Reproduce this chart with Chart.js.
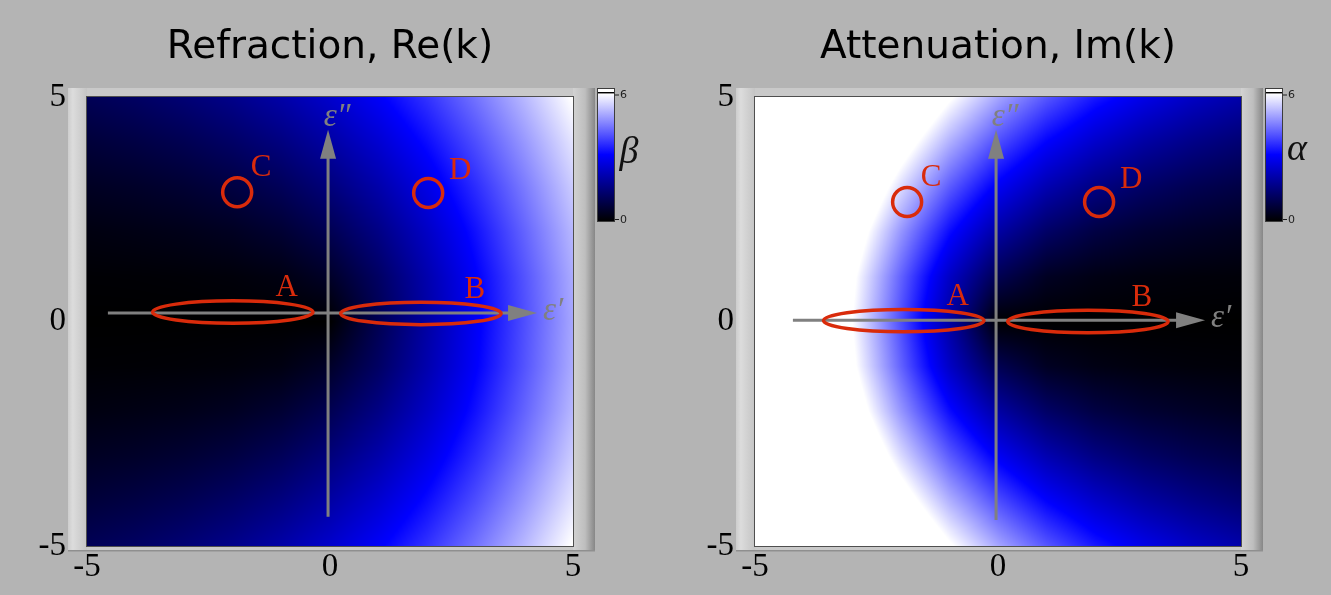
<!DOCTYPE html>
<html>
<head>
<meta charset="utf-8">
<title>Refraction and attenuation</title>
<script src="https://cdn.jsdelivr.net/npm/chart.js@4.4.1/dist/chart.umd.min.js"></script>
<style>
    html, body { margin: 0; padding: 0; background: #b4b4b4; }
    #wrap { position: relative; width: 1331px; height: 595px; overflow: hidden; }
    canvas { position: absolute; top: 0; }
    #chartRe { left: 0; }
    #chartIm { left: 668px; }
</style>
</head>
<body>
<div id="wrap">
    <canvas id="chartRe" width="668" height="595"></canvas>
    <canvas id="chartIm" width="663" height="595"></canvas>
</div>
<script>
// GRID OF THE MAPS: ε' COLUMNS, ε'' ROWS
const epsReal = [-5, -4, -3, -2, -1, 0, 1, 2, 3, 4, 5];
const epsImag = [5, 4, 3, 2, 1, 0, -1, -2, -3, -4, -5];
const axisTicks = [-5, 0, 5];
const barTicks = [0, 6];

// β MAP, ON THE 0..6 SCALE OF THE COLOUR BAR
const betaValues = [
    [1.04, 1.20, 1.42, 1.69, 2.05, 2.50, 3.05, 3.69, 4.42, 5.20, 6.04],
    [0.70, 0.83, 1.00, 1.24, 1.56, 2.00, 2.56, 3.24, 4.00, 4.83, 5.70],
    [0.42, 0.50, 0.62, 0.80, 1.08, 1.50, 2.08, 2.80, 3.62, 4.50, 5.42],
    [0.19, 0.24, 0.30, 0.41, 0.62, 1.00, 1.62, 2.41, 3.30, 4.24, 5.19],
    [0.05, 0.06, 0.08, 0.12, 0.21, 0.50, 1.21, 2.12, 3.08, 4.06, 5.05],
    [0.00, 0.00, 0.00, 0.00, 0.00, 0.00, 1.00, 2.00, 3.00, 4.00, 5.00],
    [0.05, 0.06, 0.08, 0.12, 0.21, 0.50, 1.21, 2.12, 3.08, 4.06, 5.05],
    [0.19, 0.24, 0.30, 0.41, 0.62, 1.00, 1.62, 2.41, 3.30, 4.24, 5.19],
    [0.42, 0.50, 0.62, 0.80, 1.08, 1.50, 2.08, 2.80, 3.62, 4.50, 5.42],
    [0.70, 0.83, 1.00, 1.24, 1.56, 2.00, 2.56, 3.24, 4.00, 4.83, 5.70],
    [1.04, 1.20, 1.42, 1.69, 2.05, 2.50, 3.05, 3.69, 4.42, 5.20, 6.04],
];

// α MAP, SAME SCALE (ABOVE 6 IS WHITE)
const alphaValues = [
    [12.08, 10.40, 8.84, 7.38, 6.10, 5.00, 4.10, 3.38, 2.84, 2.40, 2.08],
    [11.40, 9.66, 8.00, 6.48, 5.12, 4.00, 3.12, 2.48, 2.00, 1.66, 1.40],
    [10.84, 9.00, 7.24, 5.60, 4.16, 3.00, 2.16, 1.60, 1.24, 1.00, 0.84],
    [10.38, 8.48, 6.60, 4.82, 3.24, 2.00, 1.24, 0.82, 0.60, 0.48, 0.38],
    [10.10, 8.12, 6.16, 4.24, 2.42, 1.00, 0.42, 0.24, 0.16, 0.12, 0.10],
    [10.00, 8.00, 6.00, 4.00, 2.00, 0.00, 0.00, 0.00, 0.00, 0.00, 0.00],
    [10.10, 8.12, 6.16, 4.24, 2.42, 1.00, 0.42, 0.24, 0.16, 0.12, 0.10],
    [10.38, 8.48, 6.60, 4.82, 3.24, 2.00, 1.24, 0.82, 0.60, 0.48, 0.38],
    [10.84, 9.00, 7.24, 5.60, 4.16, 3.00, 2.16, 1.60, 1.24, 1.00, 0.84],
    [11.40, 9.66, 8.00, 6.48, 5.12, 4.00, 3.12, 2.48, 2.00, 1.66, 1.40],
    [12.08, 10.40, 8.84, 7.38, 6.10, 5.00, 4.10, 3.38, 2.84, 2.40, 2.08],
];

// MARKED REGIONS (ELLIPSES A, B) AND POINTS (CIRCLES C, D)
const regionNames = ["A", "B"];
const reRegionEps1 = [-2.0, 1.87];
const reRegionEps2 = [0.21, 0.18];
const imRegionEps1 = [-1.94, 1.85];
const imRegionEps2 = [0.02, 0.0];
const regionHalfSpan = [1.65, 0.25];

const pointNames = ["C", "D"];
const rePointEps1 = [-1.91, 2.02];
const rePointEps2 = [2.88, 2.86];
const imPointEps1 = [-1.87, 2.08];
const imPointEps2 = [2.66, 2.66];

// COLOUR BAR: BLACK -> BLUE -> WHITE
const colourStops = [
    [0, [0, 0, 0]],
    [0.52, [0, 0, 255]],
    [1, [255, 255, 255]],
];

const RED = "#d92b0b";
const GREY = "#808080";

function colourFor(t) {
    t = Math.max(0, Math.min(1, t));
    for (let i = 1; i < colourStops.length; i++) {
        const a = colourStops[i - 1];
        const b = colourStops[i];
        if (t <= b[0]) {
            const f = (t - a[0]) / (b[0] - a[0]);
            return [0, 1, 2].map((k) => a[1][k] + (b[1][k] - a[1][k]) * f);
        }
    }
    return colourStops[colourStops.length - 1][1];
}

// BILINEAR SHADING BETWEEN THE GRID NODES
function sampleGrid(values, eu, ev) {
    const nc = epsReal.length;
    const nr = epsImag.length;
    let c = (eu - epsReal[0]) / (epsReal[1] - epsReal[0]);
    let r = (ev - epsImag[0]) / (epsImag[1] - epsImag[0]);
    c = Math.max(0, Math.min(nc - 1, c));
    r = Math.max(0, Math.min(nr - 1, r));
    const c0 = Math.min(Math.floor(c), nc - 2);
    const r0 = Math.min(Math.floor(r), nr - 2);
    const fc = c - c0;
    const fr = r - r0;
    const top = values[r0][c0] * (1 - fc) + values[r0][c0 + 1] * fc;
    const bot = values[r0 + 1][c0] * (1 - fc) + values[r0 + 1][c0 + 1] * fc;
    return top * (1 - fr) + bot * fr;
}

function drawArrow(ctx, x0, y0, x1, y1) {
    const ang = Math.atan2(y1 - y0, x1 - x0);
    const len = 29;
    const half = 8;
    const bx = x1 - Math.cos(ang) * len;
    const by = y1 - Math.sin(ang) * len;
    ctx.strokeStyle = GREY;
    ctx.lineWidth = 3;
    ctx.beginPath();
    ctx.moveTo(x0, y0);
    ctx.lineTo(bx + Math.cos(ang) * 2, by + Math.sin(ang) * 2);
    ctx.stroke();
    ctx.fillStyle = GREY;
    ctx.beginPath();
    ctx.moveTo(x1, y1);
    ctx.lineTo(bx + Math.sin(ang) * half, by - Math.cos(ang) * half);
    ctx.lineTo(bx - Math.sin(ang) * half, by + Math.cos(ang) * half);
    ctx.closePath();
    ctx.fill();
}

const panelPlugin = {
    id: "panel",
    beforeDraw(chart) {
        const { ctx, chartArea: a } = chart;
        ctx.save();
        // BEVELLED FRAME ROUND THE MAP
        ctx.fillStyle = "#c9c9c9";
        ctx.fillRect(a.left - 19, a.top - 9, a.width + 41, a.height + 14);
        let g = ctx.createLinearGradient(a.left - 19, 0, a.left, 0);
        g.addColorStop(0, "#cdcdcd");
        g.addColorStop(0.25, "#dcdcdc");
        g.addColorStop(1, "#c4c4c4");
        ctx.fillStyle = g;
        ctx.fillRect(a.left - 19, a.top - 9, 19, a.height + 14);
        g = ctx.createLinearGradient(a.right, 0, a.right + 22, 0);
        g.addColorStop(0, "#d2d2d2");
        g.addColorStop(0.55, "#bebebe");
        g.addColorStop(1, "#878787");
        ctx.fillStyle = g;
        ctx.fillRect(a.right, a.top - 9, 22, a.height + 14);
        ctx.fillStyle = "#8f8f8f";
        ctx.fillRect(a.left - 19, a.bottom + 4, a.width + 41, 1.5);
        ctx.restore();
    },
    beforeDatasetsDraw(chart) {
        const { ctx, chartArea: a, scales: { x, y } } = chart;
        const o = chart.options.plugins.panel;
        const w = Math.round(a.width);
        const h = Math.round(a.height);
        const off = document.createElement("canvas");
        off.width = w;
        off.height = h;
        const octx = off.getContext("2d");
        const img = octx.createImageData(w, h);
        for (let j = 0; j < h; j++) {
            const ev = y.getValueForPixel(a.top + ((j + 0.5) * a.height) / h);
            for (let i = 0; i < w; i++) {
                const eu = x.getValueForPixel(a.left + ((i + 0.5) * a.width) / w);
                const c = colourFor(sampleGrid(o.values, eu, ev) / barTicks[1]);
                const k = (j * w + i) * 4;
                img.data[k] = c[0];
                img.data[k + 1] = c[1];
                img.data[k + 2] = c[2];
                img.data[k + 3] = 255;
            }
        }
        octx.putImageData(img, 0, 0);
        ctx.save();
        ctx.drawImage(off, a.left, a.top, a.width, a.height);
        ctx.strokeStyle = "#4f4f4f";
        ctx.lineWidth = 1;
        ctx.strokeRect(a.left - 0.5, a.top - 0.5, a.width + 1, a.height + 1);

        // ε' AND ε'' AXES
        const hA = o.hAxis;
        const vA = o.vAxis;
        drawArrow(ctx, x.getPixelForValue(hA[0]), y.getPixelForValue(hA[2]),
            x.getPixelForValue(hA[1]), y.getPixelForValue(hA[2]));
        drawArrow(ctx, x.getPixelForValue(vA[2]), y.getPixelForValue(vA[0]),
            x.getPixelForValue(vA[2]), y.getPixelForValue(vA[1]));
        ctx.fillStyle = GREY;
        ctx.font = "italic 33px 'Liberation Serif'";
        ctx.textAlign = "left";
        ctx.textBaseline = "alphabetic";
        ctx.fillText("\u03B5\u2032", x.getPixelForValue(hA[1]) + 6, y.getPixelForValue(hA[2]) + 7);
        ctx.textAlign = "center";
        ctx.fillText("\u03B5\u2033", x.getPixelForValue(vA[2]) + 9, y.getPixelForValue(vA[1]) - 4);
        ctx.restore();
    },
    afterDatasetsDraw(chart) {
        const { ctx, scales: { x, y } } = chart;
        const o = chart.options.plugins.panel;
        ctx.save();
        ctx.strokeStyle = RED;
        ctx.lineWidth = 3.5;
        ctx.fillStyle = RED;
        ctx.font = "31px 'Liberation Serif'";
        ctx.textAlign = "center";
        ctx.textBaseline = "middle";
        o.regionEps1.forEach((e1, i) => {
            const cx = x.getPixelForValue(e1);
            const cy = y.getPixelForValue(o.regionEps2[i]);
            const rx = x.getPixelForValue(e1 + regionHalfSpan[0]) - cx;
            const ry = cy - y.getPixelForValue(o.regionEps2[i] + regionHalfSpan[1]);
            ctx.beginPath();
            ctx.ellipse(cx, cy, rx, ry, 0, 0, Math.PI * 2);
            ctx.stroke();
            ctx.fillText(regionNames[i], cx + 54, cy - 24);
        });
        const meta = chart.getDatasetMeta(0);
        const shift = [[24, -24], [32, -22]];
        meta.data.forEach((pt, i) => {
            ctx.fillText(pointNames[i], pt.x + shift[i][0], pt.y + shift[i][1]);
        });
        ctx.restore();
    },
    afterDraw(chart) {
        const { ctx, chartArea: a } = chart;
        const o = chart.options.plugins.panel;
        const bx = a.right + 24;
        const top = a.top - 9;
        ctx.save();
        // COLOUR BAR
        ctx.fillStyle = "#3c3c3c";
        ctx.fillRect(bx, top, 18, 134);
        ctx.fillStyle = "#ffffff";
        ctx.fillRect(bx + 1, top + 1, 16, 3);
        ctx.fillStyle = "#000000";
        ctx.fillRect(bx + 1, top + 4, 16, 1.5);
        const g0 = top + 5.5;
        const g1 = top + 133;
        const g = ctx.createLinearGradient(0, g1, 0, g0);
        colourStops.forEach((s) => g.addColorStop(s[0], "rgb(" + s[1].join(",") + ")"));
        ctx.fillStyle = g;
        ctx.fillRect(bx + 1, g0, 16, g1 - g0);
        ctx.fillStyle = "#1e1e1e";
        ctx.strokeStyle = "#1e1e1e";
        ctx.lineWidth = 1;
        ctx.font = "11px 'DejaVu Sans'";
        ctx.textAlign = "left";
        ctx.textBaseline = "middle";
        [g1 - 2, g0 + 1].forEach((ty, i) => {
            ctx.beginPath();
            ctx.moveTo(bx + 18, ty + 0.5);
            ctx.lineTo(bx + 22, ty + 0.5);
            ctx.stroke();
            ctx.fillText(String(barTicks[i]), bx + 23, ty + 1);
        });
        ctx.fillStyle = "#111111";
        ctx.font = "italic 38px 'Liberation Serif'";
        ctx.textAlign = "center";
        ctx.textBaseline = "alphabetic";
        ctx.fillText(o.symbol, a.right + 56, a.top + o.symbolDrop);
        ctx.restore();
    },
};

function makePanel(id, title, values, symbol, symbolDrop, regions, points, hAxis, vAxis, rightPad) {
    const tickFont = { family: "'Liberation Serif'", size: 33 };
    return new Chart(document.getElementById(id), {
        type: "scatter",
        data: {
            datasets: [
                {
                    label: "points",
                    data: points[0].map((v, i) => ({ x: v, y: points[1][i] })),
                    pointStyle: "circle",
                    pointRadius: 14.5,
                    pointBorderWidth: 3.5,
                    borderColor: RED,
                    backgroundColor: "rgba(0,0,0,0)",
                },
            ],
        },
        options: {
            responsive: false,
            animation: false,
            events: [],
            layout: { padding: { left: 0, right: rightPad, top: 0, bottom: 0 } },
            plugins: {
                legend: { display: false },
                tooltip: { enabled: false },
                title: {
                    display: true,
                    text: title,
                    fullSize: false,
                    color: "#000000",
                    font: { family: "'DejaVu Sans'", size: 39, weight: "normal" },
                    padding: { top: 24.6, bottom: 25.6 },
                },
                panel: {
                    values: values,
                    symbol: symbol,
                    symbolDrop: symbolDrop,
                    regionEps1: regions[0],
                    regionEps2: regions[1],
                    hAxis: hAxis,
                    vAxis: vAxis,
                },
            },
            scales: {
                x: {
                    type: "linear",
                    min: axisTicks[0],
                    max: axisTicks[2],
                    afterBuildTicks: (s) => { s.ticks = axisTicks.map((v) => ({ value: v })); },
                    ticks: { font: tickFont, color: "#000000", padding: 2, maxRotation: 0 },
                    grid: { display: false, drawTicks: false },
                    border: { display: false },
                    afterFit: (s) => { s.height = 49; },
                },
                y: {
                    type: "linear",
                    min: axisTicks[0],
                    max: axisTicks[2],
                    afterBuildTicks: (s) => { s.ticks = axisTicks.map((v) => ({ value: v })); },
                    ticks: { font: tickFont, color: "#000000", padding: 21 },
                    grid: { display: false, drawTicks: false },
                    border: { display: false },
                    afterFit: (s) => { s.width = 87; },
                },
            },
        },
        plugins: [panelPlugin],
    });
}

makePanel("chartRe", "Refraction, Re(k)", betaValues, "\u03B2", 66,
    [reRegionEps1, reRegionEps2], [rePointEps1, rePointEps2],
    [-4.57, 4.26, 0.19], [-4.35, 4.27, -0.04], 95);

makePanel("chartIm", "Attenuation, Im(k)", alphaValues, "\u03B1", 63,
    [imRegionEps1, imRegionEps2], [imPointEps1, imPointEps2],
    [-4.22, 4.26, 0.03], [-4.42, 4.27, -0.04], 90);
</script>
</body>
</html>
